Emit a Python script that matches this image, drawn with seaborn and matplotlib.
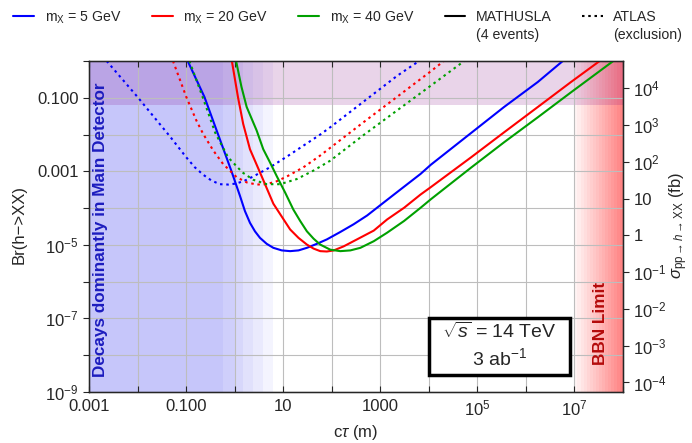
import numpy as np
import pandas as pd
import matplotlib
matplotlib.use("Agg")
import matplotlib.pyplot as plt
import seaborn as sns
from matplotlib.lines import Line2D
from matplotlib.patches import Rectangle
from matplotlib.ticker import FixedLocator, FixedFormatter, NullLocator

# ---------------- data ----------------
# MATHUSLA 4-event curves (solid)
ct_math_5 = [0.108, 0.239, 0.451, 0.851, 1.29, 1.63, 2.07, 2.62, 3.33, 4.57, 6.27, 9.35, 13.9, 20.7, 30.8, 49.5,
             79.4, 150, 282, 537, 1170, 2630, 6760, 1.10e4, 7.41e4, 3.55e5, 1.76e6, 5.75e6]
br_math_5 = [1.0, 0.105, 0.0105, 1.05e-3, 2.14e-4, 8.3e-5, 3.98e-5, 2.34e-5, 1.55e-5, 1.07e-5, 8.32e-6, 7.08e-6,
             6.76e-6, 7.08e-6, 8.32e-6, 1.07e-5, 1.41e-5, 2.24e-5, 3.63e-5, 6.31e-5, 1.41e-4, 3.24e-4, 8.51e-4,
             1.51e-3, 0.011, 0.0562, 0.269, 1.0]

ct_math_20 = [0.877, 1.17, 1.50, 2.07, 3.33, 6.27, 13.9, 20.7, 30.8, 42.2, 57.9, 79.4, 110, 176, 331, 735, 1380,
              3090, 6760, 1.10e4, 7.41e4, 3.55e5, 1.76e6, 8.51e6, 3.31e7]
br_math_20 = [1.0, 0.105, 0.0195, 3.98e-3, 9.33e-4, 1.32e-4, 2.63e-5, 1.55e-5, 1.02e-5, 7.94e-6, 6.76e-6, 6.61e-6,
              7.08e-6, 9.12e-6, 1.41e-5, 2.45e-5, 4.9e-5, 1.02e-4, 2.34e-4, 3.72e-4, 2.4e-3, 0.0115, 0.0562,
              0.269, 1.0]

ct_math_40 = [1.07, 1.38, 1.77, 2.84, 3.89, 5.36, 7.36, 11.0, 16.2, 22.4, 30.8, 42.2, 57.9, 93.3, 150, 242, 389,
              735, 1380, 3090, 6760, 1.10e4, 7.41e4, 3.55e5, 1.76e6, 8.51e6, 6.31e7]
br_math_40 = [1.0, 0.2, 0.0562, 0.0129, 3.98e-3, 1.74e-3, 7.41e-4, 2.63e-4, 9.12e-5, 4.47e-5, 2.34e-5, 1.48e-5,
              1.02e-5, 7.41e-6, 6.76e-6, 7.08e-6, 8.32e-6, 1.26e-5, 2.14e-5, 4.47e-5, 1.02e-4, 1.74e-4, 1.26e-3,
              6.17e-3, 0.0295, 0.141, 1.0]

# ATLAS exclusion curves (dotted)
ct_atlas_5 = [2.31e-3, 0.01, 0.0458, 0.068, 0.101, 0.151, 0.224, 0.333, 0.495, 0.736, 1.10, 1.63, 2.42, 5.36,
              11.9, 26.2, 57.9, 93.3, 457, 2240, 6310]
br_atlas_5 = [1.0, 0.105, 9.12e-3, 4.68e-3, 2.4e-3, 1.29e-3, 8.13e-4, 5.62e-4, 4.47e-4, 4.37e-4, 4.68e-4, 5.62e-4,
              7.24e-4, 1.29e-3, 2.51e-3, 5.01e-3, 0.01, 0.0158, 0.0794, 0.398, 1.0]

ct_atlas_20 = [0.0537, 0.101, 0.163, 0.224, 0.361, 0.579, 1.10, 1.77, 2.84, 4.57, 7.36, 11.9, 26.2, 57.9, 93.3,
               457, 2240, 1.10e4, 2.04e4]
br_atlas_20 = [1.0, 0.105, 0.024, 0.0105, 3.72e-3, 1.58e-3, 6.92e-4, 5.01e-4, 4.37e-4, 4.47e-4, 5.37e-4, 7.24e-4,
               1.29e-3, 2.69e-3, 4.37e-3, 0.0219, 0.107, 0.525, 1.0]

ct_atlas_40 = [0.117, 0.219, 0.398, 0.733, 1.45, 2.42, 4.57, 8.63, 19.1, 42.2, 93.3, 457, 2240, 1.10e4, 5.37e4]
br_atlas_40 = [1.0, 0.105, 0.0112, 2.4e-3, 9.33e-4, 5.89e-4, 4.47e-4, 4.47e-4, 6.17e-4, 1.05e-3, 1.95e-3,
               9.77e-3, 0.0457, 0.214, 1.0]

masses = ["5", "20", "40"]
mass_labels = ["m$_\\mathrm{X}$ = 5 GeV", "m$_\\mathrm{X}$ = 20 GeV", "m$_\\mathrm{X}$ = 40 GeV"]
exp_labels = ["MATHUSLA", "ATLAS"]
exp_sublabels = ["(4 events)", "(exclusion)"]

# shaded regions
main_det_edges = [1e-3, 0.58, 1.0, 1.5, 2.4, 3.9, 6.3]   # fade steps of the main-detector region
br_current_limit = 0.065                                # horizontal band
bbn_start, bbn_end = 1e7, 1e8
sigma_h_fb = 55000.0                                    # pp -> h cross section (fb)

x_ticks = [10.0**k for k in range(-3, 9)]
x_ticklabels = {-3: "0.001", -1: "0.100", 1: "10", 3: "1000", 5: "$10^{5}$", 7: "$10^{7}$"}
y_ticks = [10.0**k for k in range(-9, 1)]
y_ticklabels = {-1: "0.100", -3: "0.001", -5: "$10^{-5}$", -7: "$10^{-7}$", -9: "$10^{-9}$"}
r_ticks = [10.0**k for k in range(-4, 5)]
r_ticklabels = ["$10^{-4}$", "$10^{-3}$", "$10^{-2}$", "$10^{-1}$", "1", "10", "$10^{2}$", "$10^{3}$", "$10^{4}$"]

# ---------------- assemble ----------------
series = {
    ("5", "MATHUSLA"): (ct_math_5, br_math_5),
    ("20", "MATHUSLA"): (ct_math_20, br_math_20),
    ("40", "MATHUSLA"): (ct_math_40, br_math_40),
    ("5", "ATLAS"): (ct_atlas_5, br_atlas_5),
    ("20", "ATLAS"): (ct_atlas_20, br_atlas_20),
    ("40", "ATLAS"): (ct_atlas_40, br_atlas_40),
}
rows = []
for (m, e), (cts, brs) in series.items():
    for c, b in zip(cts, brs):
        rows.append({"ct": c, "br": b, "mass": m, "exp": e})
df = pd.DataFrame(rows)

sns.set_style("white")
plt.rcParams["font.family"] = ["Liberation Sans", "DejaVu Sans"]
plt.rcParams["mathtext.fontset"] = "custom"
plt.rcParams["mathtext.rm"] = "Liberation Sans"
plt.rcParams["mathtext.it"] = "Liberation Sans:italic"
plt.rcParams["mathtext.bf"] = "Liberation Sans:bold"

colors = {"5": "#0000ff", "20": "#ff0000", "40": "#00a000"}
dot_pattern = (1.2, 1.8)
LW = 1.5
FS = 12

fig = plt.figure(figsize=(6.92, 4.43), dpi=100)
ax = fig.add_axes([89 / 692, 51 / 443, 534 / 692, 331 / 443])
ax.set_xscale("log")
ax.set_yscale("log")
ax.set_xlim(1e-3, 1e8)
ax.set_ylim(1e-9, 1.0)

# main detector region with fade
base_blue = np.array([198, 198, 250]) / 255.0
levels = [1.0, 0.85, 0.7, 0.52, 0.36, 0.2]
for i, a in enumerate(levels):
    col = 1 - a * (1 - base_blue)
    ax.axvspan(main_det_edges[i], main_det_edges[i + 1], color=col, lw=0, zorder=0.1)

# BBN region gradient
n = 16
edges = np.logspace(np.log10(bbn_start), np.log10(bbn_end), n + 1)
for i in range(n):
    a = 0.05 + 0.5 * i / (n - 1)
    ax.axvspan(edges[i], edges[i + 1], color="#ff2020", alpha=a, lw=0, zorder=0.1)

# current-limit band
ax.axhspan(br_current_limit, 1.0, color="purple", alpha=0.17, lw=0, zorder=0.3)

# curves
sns.lineplot(data=df, x="ct", y="br", hue="mass", style="exp", palette=colors,
             dashes={"MATHUSLA": "", "ATLAS": dot_pattern}, estimator=None,
             sort=False, legend=False, lw=LW, ax=ax, zorder=3)

# ticks / grid
ax.xaxis.set_major_locator(FixedLocator(x_ticks))
ax.xaxis.set_major_formatter(FixedFormatter([x_ticklabels.get(k, "") for k in range(-3, 9)]))
ax.xaxis.set_minor_locator(NullLocator())
ax.yaxis.set_major_locator(FixedLocator(y_ticks))
ax.yaxis.set_major_formatter(FixedFormatter([y_ticklabels.get(k, "") for k in range(-9, 1)]))
ax.yaxis.set_minor_locator(NullLocator())
ax.set_axisbelow(True)
ax.grid(True, which="major", color="#bdbdbd", lw=0.8)
ax.tick_params(axis="x", direction="in", top=True, bottom=True, length=4, labelsize=FS, pad=5)
ax.tick_params(axis="y", direction="out", left=True, right=False, length=4, labelsize=FS)
for s in ax.spines.values():
    s.set_color("black")
    s.set_linewidth(1.0)
ax.set_xlabel("")
ax.set_ylabel("")

ax2 = ax.twinx()
ax2.set_yscale("log")
ax2.set_ylim(1e-9 * sigma_h_fb, 1.0 * sigma_h_fb)
ax2.yaxis.set_major_locator(FixedLocator(r_ticks))
ax2.yaxis.set_major_formatter(FixedFormatter(r_ticklabels))
ax2.yaxis.set_minor_locator(NullLocator())
ax2.tick_params(axis="y", direction="out", length=4, labelsize=FS)
ax2.grid(False)

# axis titles
fig.text(356 / 692, 1 - 432 / 443, "c$\\tau$ (m)", ha="center", va="center", fontsize=FS)
fig.text(19 / 692, 1 - 224 / 443, "Br(h\u2212>XX)", ha="center", va="center", fontsize=FS, rotation=90)
fig.text(679 / 692, 1 - 226 / 443, "$\\sigma_{\\mathrm{pp}\\rightarrow h\\rightarrow \\mathrm{XX}}$ (fb)",
         ha="center", va="center", fontsize=FS, rotation=90)

# region labels
ax.text(0.021, 0.49, "Decays dominantly in Main Detector", transform=ax.transAxes, rotation=90,
        ha="center", va="center", fontsize=12.3, fontweight="bold", color="#1c1cbe", zorder=4)
ax.text(0.957, 0.206, "BBN Limit", transform=ax.transAxes, rotation=90,
        ha="center", va="center", fontsize=12.3, fontweight="bold", color="#b40a0a", zorder=4)

# energy / luminosity box
ax.add_patch(Rectangle((0.637, 0.052), 0.264, 0.172, transform=ax.transAxes, fc="white",
                       ec="black", lw=2.5, zorder=5))
ax.text(0.769, 0.183, "$\\sqrt{s}$ = 14 TeV", transform=ax.transAxes, ha="center", va="center",
        fontsize=14, zorder=6)
ax.text(0.769, 0.103, "3 ab$^{-1}$", transform=ax.transAxes, ha="center", va="center",
        fontsize=14, zorder=6)

# legend
handles = [Line2D([], [], color=colors[m], lw=LW) for m in masses]
handles += [Line2D([], [], color="black", lw=LW),
            Line2D([], [], color="black", lw=LW, dashes=dot_pattern)]
labels = mass_labels + exp_labels
leg = fig.legend(handles, labels, loc="upper left", bbox_to_anchor=(0.006, 1.0), ncol=5,
                 frameon=False, fontsize=10.2, handlelength=1.45, handletextpad=0.75,
                 columnspacing=2.15, borderaxespad=0.25)
fig.canvas.draw()
renderer = fig.canvas.get_renderer()
inv = fig.transFigure.inverted()
for txt, sub in zip(leg.get_texts()[3:], exp_sublabels):
    bb = txt.get_window_extent(renderer)
    x0, y0 = inv.transform((bb.x0, bb.y0))
    fig.text(x0, y0 - 0.008, sub, ha="left", va="top", fontsize=10.2)

fig.savefig("out.png", dpi=100)
